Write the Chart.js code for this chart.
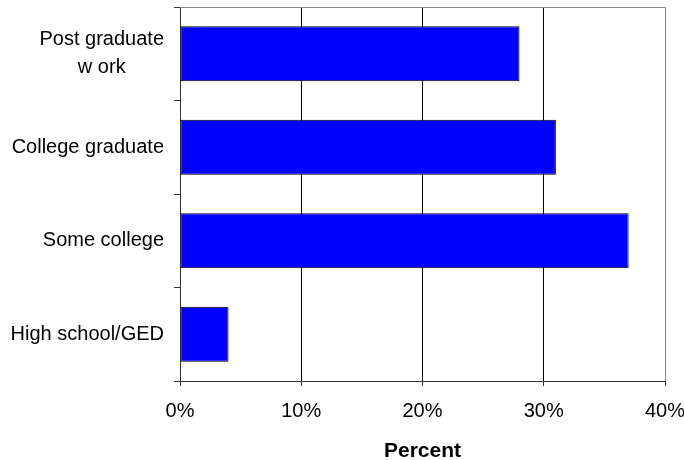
<!DOCTYPE html>
<html>
<head>
<meta charset="utf-8">
<script src="https://cdn.jsdelivr.net/npm/chart.js@4"></script>
<style>
  html, body { margin: 0; padding: 0; background: #fff; }
</style>
</head>
<body>
<canvas id="chart" width="684" height="460"></canvas>
<script>
// education levels (top to bottom), multi-line labels as arrays
const categories = [['Post graduate', 'w ork'], ['College graduate'], ['Some college'], ['High school/GED']];
const percents = [28, 31, 37, 4];
const xTicks = [0, 10, 20, 30, 40];

const FONT = '"Liberation Sans", Arial, sans-serif';

// category labels: right-aligned block, lines centred within it
const yLabels = {
  id: 'yLabels',
  afterDraw(chart) {
    const { ctx, scales: { y } } = chart;
    ctx.save();
    ctx.font = '20px ' + FONT;
    ctx.fillStyle = '#000';
    ctx.textBaseline = 'middle';
    ctx.textAlign = 'center';
    categories.forEach((lines, i) => {
      const cy = y.getPixelForValue(i);
      const w = Math.max(...lines.map(l => ctx.measureText(l).width));
      const cx = y.right - 16 - w / 2;
      lines.forEach((l, j) => ctx.fillText(l, cx, cy + (j - (lines.length - 1) / 2) * 28));
    });
    ctx.restore();
  }
};

// grey frame line along the top of the plot
const topFrame = {
  id: 'topFrame',
  afterDatasetsDraw(chart) {
    const { ctx, chartArea: a } = chart;
    ctx.save();
    ctx.strokeStyle = '#888';
    ctx.lineWidth = 1;
    ctx.beginPath();
    ctx.moveTo(a.left, a.top + 0.5);
    ctx.lineTo(a.right, a.top + 0.5);
    ctx.stroke();
    ctx.restore();
  }
};

new Chart(document.getElementById('chart'), {
  type: 'bar',
  data: {
    labels: categories.map(c => c.join(' ')),
    datasets: [{
      data: percents,
      backgroundColor: '#0000ff',
      borderColor: '#000',
      borderWidth: 1,
      borderSkipped: false,
      barPercentage: 0.59,
      categoryPercentage: 1
    }]
  },
  options: {
    indexAxis: 'y',
    responsive: false,
    animation: false,
    layout: { padding: { top: 7, right: 0, bottom: 0, left: 0 } },
    plugins: { legend: { display: false }, tooltip: { enabled: false } },
    scales: {
      x: {
        min: xTicks[0],
        max: xTicks[xTicks.length - 1],
        afterBuildTicks(s) { s.ticks = xTicks.map(v => ({ value: v })); },
        ticks: { callback: v => v + '%', color: '#000', font: { family: FONT, size: 20 }, padding: 13, maxRotation: 0 },
        grid: {
          color: c => (c.tick && c.tick.value === 40 ? '#888' : '#000'),
          tickColor: '#333',
          tickLength: 5
        },
        border: { color: '#333', width: 1 },
        title: { display: true, text: 'Percent', color: '#000', font: { family: FONT, size: 21, weight: 'bold', lineHeight: 0.8 }, padding: 0 },
        afterFit(s) {
          s.height = 79;
          s.paddingLeft = 0;
          s.paddingRight = 19;
        }
      },
      y: {
        ticks: { display: false },
        grid: { drawOnChartArea: false, drawTicks: true, tickLength: 6, color: '#333', offset: true },
        border: { color: '#333', width: 1 },
        afterFit(s) { s.width = 180; }
      }
    }
  },
  plugins: [yLabels, topFrame]
});
</script>
</body>
</html>
